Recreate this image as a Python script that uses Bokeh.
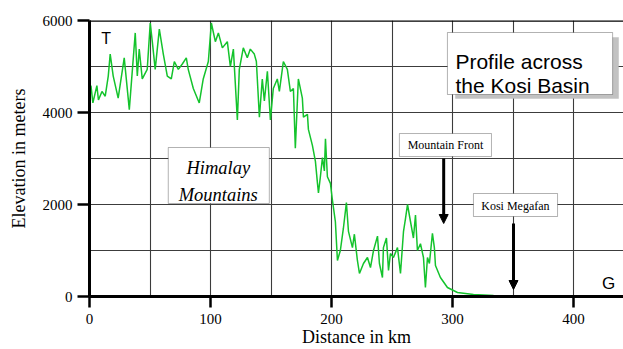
from bokeh.plotting import figure
from bokeh.models import (Range1d, FixedTicker, Label, BoxAnnotation, Arrow,
                          NormalHead, Span)
from bokeh.embed import file_html
from bokeh.resources import INLINE

dist_km = [1.2, 2.8, 6.1, 7.4, 10.3, 13.0, 15.5, 17.1, 19.6, 23.7,
           28.7, 32.9, 37.8, 39.5, 41.1, 43.6, 47.7, 50.2, 51.9, 54.3,
           57.7, 61.0, 64.3, 67.6, 70.1, 73.4, 76.7, 80.0, 81.6, 85.8,
           90.7, 94.0, 98.2, 100.7, 104.0, 106.5, 109.8, 113.9, 116.4, 118.9,
           122.2, 123.8, 127.1, 130.4, 132.9, 136.2, 137.9, 140.4, 142.8, 144.5,
           147.0, 149.5, 151.9, 155.2, 156.9, 160.2, 163.5, 166.0, 168.5, 170.1,
           172.6, 175.9, 176.8, 180.1, 180.9, 184.2, 186.7, 188.4, 189.2, 190.8,
           192.5, 194.1, 195.0, 196.6, 199.1, 200.7, 203.2, 204.9, 207.3, 209.8,
           212.3, 214.0, 217.3, 218.9, 221.4, 223.1, 226.4, 229.7, 232.2, 234.7,
           238.0, 239.6, 242.1, 242.9, 245.4, 247.1, 248.7, 251.2, 254.5, 257.0,
           259.5, 261.1, 262.8, 265.3, 267.7, 269.4, 271.0, 273.5, 276.0, 277.6,
           279.3, 280.9, 283.4, 285.0, 285.9, 290.0, 295.8, 304.1, 317.3, 333.9,
           350.0, 380.0, 410.0, 441.0]
elev_m = [4583, 4208, 4583, 4271, 4458, 4354, 4792, 5270, 4792, 4313,
          5189, 4063, 5730, 4792, 5378, 4729, 4938, 5946, 5540, 4938,
          5811, 5270, 4792, 4729, 5108, 4938, 5054, 5189, 4938, 4521,
          4208, 4729, 5108, 5946, 5540, 5730, 5405, 5540, 5000, 5378,
          3837, 4938, 5405, 5189, 5378, 5270, 5108, 3898, 4729, 4250,
          4896, 3837, 4521, 4729, 4458, 5108, 4938, 4458, 4521, 3224,
          4729, 4313, 3898, 3959, 3633, 3286, 2938, 2458, 2250, 2604,
          3020, 2729, 3429, 2604, 2458, 2104, 1625, 783, 1000, 1479,
          2042, 1417, 1063, 1354, 783, 500, 717, 848, 630, 1000,
          1313, 717, 413, 1063, 1271, 565, 935, 848, 1063, 500,
          1417, 1688, 2000, 1625, 1271, 1771, 1000, 1146, 848, 196,
          848, 717, 1375, 1063, 674, 413, 196, 87, 43, 22,
          8, 0, 0, 0]

x_ticks = [0, 100, 200, 300, 400]
x_grid_ticks = [0, 50, 100, 150, 200, 250, 300, 350, 400]
y_ticks = [0, 2000, 4000, 6000]
y_grid_ticks = [0, 1000, 2000, 3000, 4000, 5000, 6000]

SERIF = "Liberation Serif"
SANS = "Liberation Sans"

p = figure(width=623, height=349, output_backend="svg", toolbar_location=None,
           x_range=Range1d(0, 441.3), y_range=Range1d(0, 6000),
           min_border_left=89, min_border_right=0, min_border_top=20,
           min_border_bottom=53)
p.outline_line_color = None
p.background_fill_color = "white"

# grids
p.xgrid.ticker = FixedTicker(ticks=x_grid_ticks)
p.ygrid.ticker = FixedTicker(ticks=y_grid_ticks)
for g in (p.xgrid, p.ygrid):
    g.grid_line_color = "#3c3c3c"
    g.grid_line_width = 1.1

# axes
p.xaxis.ticker = FixedTicker(ticks=x_ticks)
p.yaxis.ticker = FixedTicker(ticks=y_ticks)
for ax in (p.xaxis, p.yaxis):
    ax.axis_line_width = 3
    ax.axis_line_color = "black"
    ax.major_tick_line_width = 2.5
    ax.major_tick_line_color = "black"
    ax.major_tick_in = 0
    ax.minor_tick_line_color = None
    ax.major_label_text_font = SERIF
    ax.major_label_text_font_size = "15px"
    ax.major_label_text_color = "black"
    ax.axis_label_text_font = SERIF
    ax.axis_label_text_font_style = "normal"
    ax.axis_label_text_color = "black"
p.xaxis.major_tick_out = 11
p.xaxis.major_label_standoff = 6
p.xaxis.axis_label = "Distance in km"
p.xaxis.axis_label_text_font_size = "18px"
p.xaxis.axis_label_standoff = 0
p.yaxis.major_tick_out = 12
p.yaxis.major_label_standoff = 5
p.yaxis.axis_label = "Elevation in meters"
p.yaxis.axis_label_text_font_size = "18px"
p.yaxis.axis_label_standoff = 11

# frame border lines (top, plus thick left / bottom axis lines)
p.add_layout(Span(location=6000, dimension="width", line_color="black",
                  line_width=2.5))
p.add_layout(Span(location=0, dimension="width", line_color="black",
                  line_width=3))
p.add_layout(Span(location=0, dimension="height", line_color="black",
                  line_width=3))

# profile
p.line(dist_km, elev_m, line_color="#14c32c", line_width=1.5)

# end labels
p.add_layout(Label(x=13.8, y=5609, text="T", text_font=SANS,
                   text_font_size="16px", text_align="center",
                   text_baseline="middle", text_color="black"))
p.add_layout(Label(x=429, y=283, text="G", text_font=SANS,
                   text_font_size="17px", text_align="center",
                   text_baseline="middle", text_color="black"))

# title box with shadow
p.add_layout(BoxAnnotation(left=302.4, right=437.2, bottom=4304, top=5630,
                           fill_color="#c2c2c2", fill_alpha=1,
                           line_color="#b0b0b0", line_width=1))
p.add_layout(BoxAnnotation(left=295.8, right=432.3, bottom=4391, top=5739,
                           fill_color="white", fill_alpha=1,
                           line_color="black", line_width=1))
p.add_layout(Label(x=302.4, y=5109, text="Profile across", text_font=SANS,
                   text_font_size="21px", text_baseline="alphabetic",
                   text_color="black"))
p.add_layout(Label(x=302.4, y=4587, text="the Kosi Basin", text_font=SANS,
                   text_font_size="21px", text_baseline="alphabetic",
                   text_color="black"))

# Himalay Mountains box
p.add_layout(BoxAnnotation(left=65.1, right=148.6, bottom=2022, top=3239,
                           fill_color="white", fill_alpha=1,
                           line_color="black", line_width=1))
p.add_layout(Label(x=106.4, y=2783, text="Himalay", text_font=SERIF,
                   text_font_style="italic", text_font_size="18.5px",
                   text_align="center", text_baseline="alphabetic",
                   text_color="black"))
p.add_layout(Label(x=106.4, y=2196, text="Mountains", text_font=SERIF,
                   text_font_style="italic", text_font_size="18.5px",
                   text_align="center", text_baseline="alphabetic",
                   text_color="black"))

# Mountain Front
p.add_layout(BoxAnnotation(left=256.1, right=332.2, bottom=3043, top=3543,
                           fill_color="white", fill_alpha=1,
                           line_color="black", line_width=1))
p.add_layout(Label(x=294.2, y=3283, text="Mountain Front", text_font=SERIF,
                   text_font_size="12px", text_align="center",
                   text_baseline="middle", text_color="black"))
p.add_layout(Arrow(x_start=292.7, y_start=3000, x_end=292.7, y_end=1587,
                   line_width=3, line_color="black",
                   end=NormalHead(size=9, fill_color="black",
                                  line_color="black")))

# Kosi Megafan
p.add_layout(BoxAnnotation(left=317.3, right=386.8, bottom=1739, top=2239,
                           fill_color="white", fill_alpha=1,
                           line_color="black", line_width=1))
p.add_layout(Label(x=352.0, y=1978, text="Kosi Megafan", text_font=SERIF,
                   text_font_size="12px", text_align="center",
                   text_baseline="middle", text_color="black"))
p.add_layout(Arrow(x_start=350.4, y_start=1587, x_end=350.4, y_end=152,
                   line_width=3, line_color="black",
                   end=NormalHead(size=9, fill_color="black",
                                  line_color="black")))

open("out.html", "w").write(file_html(p, INLINE))
